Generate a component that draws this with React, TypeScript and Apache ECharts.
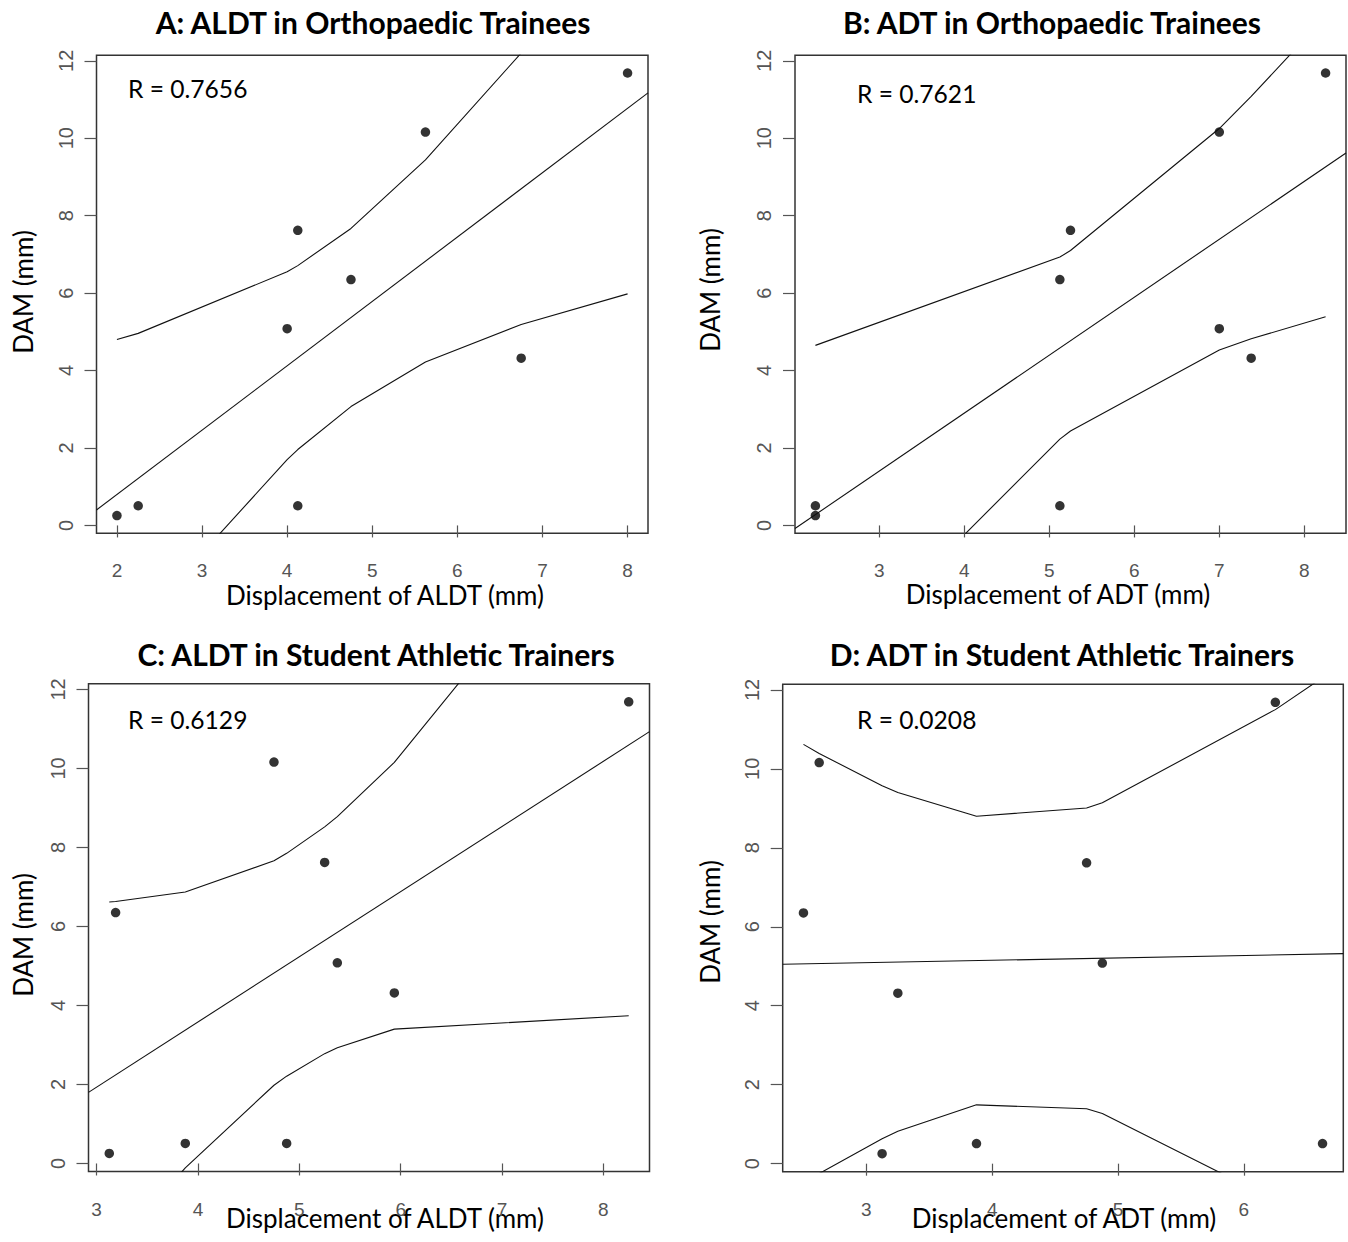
import React, { useEffect, useRef } from "react";
import * as echarts from "echarts";

// DAM values (mm), same subjects in every panel
const DAM = [0.254, 0.508, 0.508, 4.318, 5.08, 6.35, 7.62, 10.16, 11.684];

// Displacement values for each panel, aligned with DAM
const A_X = [2, 2.25, 4.125, 6.75, 4, 4.75, 4.125, 5.625, 8];
const B_X = [2.25, 2.25, 5.125, 7.375, 7, 5.125, 5.25, 7, 8.25];
const C_X = [3.125, 3.875, 4.875, 5.9375, 5.375, 3.1875, 5.25, 4.75, 8.25];
const D_X = [3.125, 3.875, 6.625, 3.25, 4.875, 2.5, 4.75, 2.625, 6.25];

// Confidence band vertices
const A_CI_X = [2, 2.25, 4, 4.125, 4.75, 5.625, 6.75, 8];
const A_UPPER = [4.8, 4.96, 6.55, 6.71, 7.67, 9.44, 12.2, 15.57];
const A_LOWER = [-3.2, -2.53, 1.7, 1.96, 3.07, 4.22, 5.19, 5.98];
const B_CI_X = [2.25, 5.125, 5.25, 7, 7.375, 8.25];
const B_UPPER = [4.65, 6.93, 7.1, 10.25, 11.08, 13.14];
const B_LOWER = [-4.09, 2.23, 2.44, 4.53, 4.82, 5.39];
const C_CI_X = [3.125, 3.1875, 3.875, 4.75, 4.875, 5.25, 5.375, 5.9375, 8.25];
const C_UPPER = [6.62, 6.63, 6.87, 7.66, 7.85, 8.52, 8.78, 10.15, 17.45];
const C_LOWER = [-2.34, -2.14, -0.11, 1.98, 2.21, 2.78, 2.93, 3.4, 3.74];
const D_CI_X = [2.5, 2.625, 3.125, 3.25, 3.875, 4.75, 4.875, 6.25, 6.625];
const D_UPPER = [10.62, 10.39, 9.57, 9.4, 8.8, 9.01, 9.14, 11.5, 12.31];
const D_LOWER = [-0.49, -0.25, 0.63, 0.82, 1.49, 1.39, 1.27, -0.93, -1.69];

// Regression lines (end points at the axis limits)
const A_FIT_X = [1.76, 8.24];
const A_FIT_Y = [0.4, 11.17];
const B_FIT_X = [2.01, 8.49];
const B_FIT_Y = [-0.08, 9.62];
const C_FIT_X = [2.92, 8.455];
const C_FIT_Y = [1.8, 10.93];
const D_FIT_X = [2.335, 6.79];
const D_FIT_Y = [5.05, 5.32];

// Axes
const X_RANGES = [
  [1.76, 8.24],
  [2.01, 8.49],
  [2.92, 8.455],
  [2.335, 6.79],
];
const Y_RANGE = [-0.2032, 12.1412];
const Y_TICKS = [0, 2, 4, 6, 8, 10, 12];
const X_TICKS = [
  [2, 3, 4, 5, 6, 7, 8],
  [3, 4, 5, 6, 7, 8],
  [3, 4, 5, 6, 7, 8],
  [3, 4, 5, 6],
];

// Texts
const TITLES = [
  "A: ALDT in Orthopaedic Trainees",
  "B: ADT in Orthopaedic Trainees",
  "C: ALDT in Student Athletic Trainers",
  "D: ADT in Student Athletic Trainers",
];
const X_TITLES = [
  "Displacement of ALDT (mm)",
  "Displacement of ADT (mm)",
  "Displacement of ALDT (mm)",
  "Displacement of ADT (mm)",
];
const Y_TITLE = "DAM (mm)";
const R_LABELS = ["R = 0.7656", "R = 0.7621", "R = 0.6129", "R = 0.0208"];

const PANEL_X = [A_X, B_X, C_X, D_X];
const PANEL_CI_X = [A_CI_X, B_CI_X, C_CI_X, D_CI_X];
const PANEL_UP = [A_UPPER, B_UPPER, C_UPPER, D_UPPER];
const PANEL_LO = [A_LOWER, B_LOWER, C_LOWER, D_LOWER];
const PANEL_FIT_X = [A_FIT_X, B_FIT_X, C_FIT_X, D_FIT_X];
const PANEL_FIT_Y = [A_FIT_Y, B_FIT_Y, C_FIT_Y, D_FIT_Y];

// Layout (pixels)
const GRIDS = [
  { left: 96.5, top: 55.3, width: 551.5, height: 478 },
  { left: 795, top: 55.3, width: 551, height: 478 },
  { left: 88.5, top: 683.8, width: 561, height: 487.7 },
  { left: 782.7, top: 684.3, width: 560.6, height: 487.4 },
];
const TITLE_POS = [
  [373, 22],
  [1052, 22],
  [376, 654],
  [1062, 654],
];
const XTITLE_POS = [
  [385, 595],
  [1058, 594],
  [385, 1218],
  [1064, 1218],
];
const YTITLE_POS = [
  [23, 292],
  [710, 290],
  [23, 935],
  [710, 922],
];
const RLABEL_POS = [
  [128, 88],
  [857, 93],
  [128, 719],
  [857, 719],
];

const FONT = "Lato, 'Open Sans', sans-serif";
const TICK_FONT = "'Liberation Sans Narrow', 'Liberation Sans', Arial, sans-serif";
const TICK_COLOR = "#555";

function zip(xs: number[], ys: number[]) {
  return xs.map((x, i) => [x, ys[i]]);
}

export default function App() {
  const ref = useRef<HTMLDivElement>(null);

  useEffect(() => {
    if (!ref.current) return;
    const chart = echarts.init(ref.current, null, { renderer: "svg" });

    const grid = GRIDS.map((g) => ({
      ...g,
      show: true,
      borderColor: "#333",
      borderWidth: 1.5,
      backgroundColor: "transparent",
      containLabel: false,
    }));

    const xAxis = X_RANGES.map((r, i) => ({
      type: "value",
      gridIndex: i,
      min: r[0],
      max: r[1],
      splitLine: { show: false },
      axisLine: { show: false },
      axisTick: {
        show: true,
        length: 12,
        inside: false,
        customValues: X_TICKS[i],
        lineStyle: { color: TICK_COLOR, width: 1.2 },
      },
      axisLabel: {
        show: true,
        customValues: X_TICKS[i],
        fontSize: 19,
        lineHeight: 19,
        fontFamily: TICK_FONT,
        color: TICK_COLOR,
        margin: 28,
      },
    }));

    const yAxis = GRIDS.map((_, i) => ({
      type: "value",
      gridIndex: i,
      min: Y_RANGE[0],
      max: Y_RANGE[1],
      splitLine: { show: false },
      axisLine: { show: false },
      axisTick: {
        show: true,
        length: 12,
        inside: false,
        customValues: Y_TICKS,
        lineStyle: { color: TICK_COLOR, width: 1.2 },
      },
      axisLabel: {
        show: true,
        customValues: Y_TICKS,
        rotate: 90,
        fontSize: 20,
        fontFamily: TICK_FONT,
        color: TICK_COLOR,
        margin: 21,
      },
    }));

    const series: any[] = [];
    for (let i = 0; i < 4; i++) {
      const lineBase = {
        type: "line",
        xAxisIndex: i,
        yAxisIndex: i,
        symbol: "none",
        clip: true,
        silent: true,
        lineStyle: { color: "#111", width: 1.1 },
      };
      series.push({ ...lineBase, data: zip(PANEL_CI_X[i], PANEL_UP[i]) });
      series.push({ ...lineBase, data: zip(PANEL_CI_X[i], PANEL_LO[i]) });
      series.push({ ...lineBase, data: zip(PANEL_FIT_X[i], PANEL_FIT_Y[i]) });
      series.push({
        type: "scatter",
        xAxisIndex: i,
        yAxisIndex: i,
        symbol: "circle",
        symbolSize: 9.5,
        itemStyle: { color: "#000" },
        data: zip(PANEL_X[i], DAM),
      });
    }

    const graphic: any[] = [];
    for (let i = 0; i < 4; i++) {
      graphic.push({
        type: "text",
        x: TITLE_POS[i][0],
        y: TITLE_POS[i][1],
        style: {
          text: TITLES[i],
          font: `bold 30px ${FONT}`,
          fill: "#000",
          textAlign: "center",
          textVerticalAlign: "middle",
        },
      });
      graphic.push({
        type: "text",
        x: XTITLE_POS[i][0],
        y: XTITLE_POS[i][1],
        style: {
          text: X_TITLES[i],
          font: `26px ${FONT}`,
          fill: "#000",
          textAlign: "center",
          textVerticalAlign: "middle",
        },
      });
      graphic.push({
        type: "text",
        x: YTITLE_POS[i][0],
        y: YTITLE_POS[i][1],
        rotation: Math.PI / 2,
        style: {
          text: Y_TITLE,
          font: `26px ${FONT}`,
          fill: "#000",
          textAlign: "center",
          textVerticalAlign: "middle",
        },
      });
      graphic.push({
        type: "text",
        x: RLABEL_POS[i][0],
        y: RLABEL_POS[i][1],
        style: {
          text: R_LABELS[i],
          font: `24.6px ${FONT}`,
          fill: "#000",
          textAlign: "left",
          textVerticalAlign: "middle",
        },
      });
    }

    chart.setOption({
      animation: false,
      backgroundColor: "#fff",
      grid,
      xAxis,
      yAxis,
      series,
      graphic,
    });

    return () => chart.dispose();
  }, []);

  return (
    <div
      ref={ref}
      style={{ position: "absolute", left: 0, top: 0, width: 1348, height: 1242 }}
    />
  );
}
